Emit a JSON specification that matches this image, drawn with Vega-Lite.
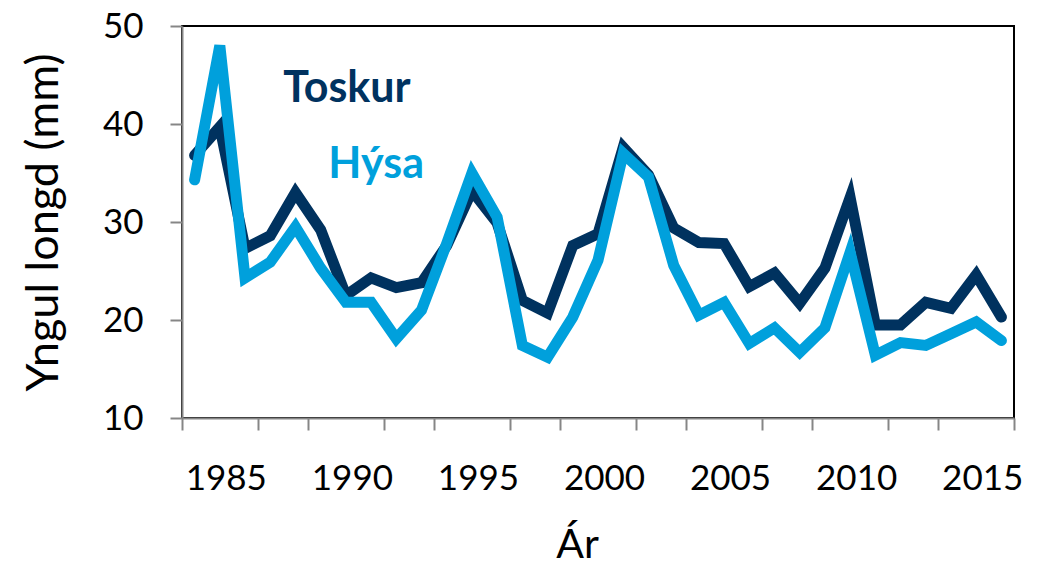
{
  "$schema": "https://vega.github.io/schema/vega-lite/v6.json",
  "width": 832,
  "height": 392,
  "autosize": {"type": "none"},
  "padding": {"left": 182, "top": 26, "right": 24, "bottom": 159},
  "background": "white",
  "config": {"view": {"stroke": "#000000", "strokeWidth": 2}, "font": "Lato"},
  "datasets": {
    "series": [
      {"year": 1984, "species": "Toskur", "value": 36.8},
      {"year": 1985, "species": "Toskur", "value": 39.7},
      {"year": 1986, "species": "Toskur", "value": 27.3},
      {"year": 1987, "species": "Toskur", "value": 28.6},
      {"year": 1988, "species": "Toskur", "value": 33.0},
      {"year": 1989, "species": "Toskur", "value": 29.2},
      {"year": 1990, "species": "Toskur", "value": 22.5},
      {"year": 1991, "species": "Toskur", "value": 24.3},
      {"year": 1992, "species": "Toskur", "value": 23.3},
      {"year": 1993, "species": "Toskur", "value": 23.8},
      {"year": 1994, "species": "Toskur", "value": 27.6},
      {"year": 1995, "species": "Toskur", "value": 33.2},
      {"year": 1996, "species": "Toskur", "value": 29.9},
      {"year": 1997, "species": "Toskur", "value": 22.0},
      {"year": 1998, "species": "Toskur", "value": 20.7},
      {"year": 1999, "species": "Toskur", "value": 27.6},
      {"year": 2000, "species": "Toskur", "value": 28.8},
      {"year": 2001, "species": "Toskur", "value": 37.6},
      {"year": 2002, "species": "Toskur", "value": 34.8},
      {"year": 2003, "species": "Toskur", "value": 29.4},
      {"year": 2004, "species": "Toskur", "value": 27.9},
      {"year": 2005, "species": "Toskur", "value": 27.8},
      {"year": 2006, "species": "Toskur", "value": 23.4},
      {"year": 2007, "species": "Toskur", "value": 24.8},
      {"year": 2008, "species": "Toskur", "value": 21.7},
      {"year": 2009, "species": "Toskur", "value": 25.3},
      {"year": 2010, "species": "Toskur", "value": 32.5},
      {"year": 2011, "species": "Toskur", "value": 19.5},
      {"year": 2012, "species": "Toskur", "value": 19.5},
      {"year": 2013, "species": "Toskur", "value": 21.8},
      {"year": 2014, "species": "Toskur", "value": 21.2},
      {"year": 2015, "species": "Toskur", "value": 24.6},
      {"year": 2016, "species": "Toskur", "value": 20.3},
      {"year": 1984, "species": "Hýsa", "value": 34.3},
      {"year": 1985, "species": "Hýsa", "value": 48.0},
      {"year": 1986, "species": "Hýsa", "value": 24.3},
      {"year": 1987, "species": "Hýsa", "value": 25.9},
      {"year": 1988, "species": "Hýsa", "value": 29.5},
      {"year": 1989, "species": "Hýsa", "value": 25.3},
      {"year": 1990, "species": "Hýsa", "value": 21.8},
      {"year": 1991, "species": "Hýsa", "value": 21.8},
      {"year": 1992, "species": "Hýsa", "value": 18.1},
      {"year": 1993, "species": "Hýsa", "value": 21.0},
      {"year": 1994, "species": "Hýsa", "value": 27.8},
      {"year": 1995, "species": "Hýsa", "value": 35.0},
      {"year": 1996, "species": "Hýsa", "value": 30.5},
      {"year": 1997, "species": "Hýsa", "value": 17.4},
      {"year": 1998, "species": "Hýsa", "value": 16.2},
      {"year": 1999, "species": "Hýsa", "value": 20.3},
      {"year": 2000, "species": "Hýsa", "value": 26.1},
      {"year": 2001, "species": "Hýsa", "value": 37.0},
      {"year": 2002, "species": "Hýsa", "value": 34.6},
      {"year": 2003, "species": "Hýsa", "value": 25.6},
      {"year": 2004, "species": "Hýsa", "value": 20.5},
      {"year": 2005, "species": "Hýsa", "value": 21.8},
      {"year": 2006, "species": "Hýsa", "value": 17.6},
      {"year": 2007, "species": "Hýsa", "value": 19.2},
      {"year": 2008, "species": "Hýsa", "value": 16.7},
      {"year": 2009, "species": "Hýsa", "value": 19.2},
      {"year": 2010, "species": "Hýsa", "value": 26.9},
      {"year": 2011, "species": "Hýsa", "value": 16.4},
      {"year": 2012, "species": "Hýsa", "value": 17.7},
      {"year": 2013, "species": "Hýsa", "value": 17.4},
      {"year": 2014, "species": "Hýsa", "value": 18.6},
      {"year": 2015, "species": "Hýsa", "value": 19.8},
      {"year": 2016, "species": "Hýsa", "value": 17.9}
    ],
    "labels": [
      {"label": "Toskur", "year": 1990.04, "value": 42.2},
      {"label": "Hýsa", "year": 1991.2, "value": 34.5}
    ]
  },
  "layer": [
    {
      "data": {"name": "series"},
      "transform": [{"filter": "datum.species == 'Toskur'"}],
      "mark": {"type": "line", "color": "#00325F", "strokeWidth": 11, "strokeCap": "round"},
      "encoding": {
        "x": {
          "field": "year",
          "type": "quantitative",
          "scale": {"domain": [1983.5, 2016.5], "nice": false, "zero": false},
          "axis": {
            "values": [1983.5, 1984.5, 1985.5, 1986.5, 1987.5, 1988.5, 1989.5, 1990.5, 1991.5, 1992.5, 1993.5, 1994.5, 1995.5, 1996.5, 1997.5, 1998.5, 1999.5, 2000.5, 2001.5, 2002.5, 2003.5, 2004.5, 2005.5, 2006.5, 2007.5, 2008.5, 2009.5, 2010.5, 2011.5, 2012.5, 2013.5, 2014.5, 2015.5, 2016.5, 1985, 1990, 1995, 2000, 2005, 2010, 2015],
            "format": "d",
            "labelExpr": "datum.value % 1 == 0 ? datum.label : ''",
            "labelOverlap": false,
            "labelFlush": false,
            "labelBound": false,
            "labelFontSize": 35,
            "labelColor": "#000000",
            "labelPadding": 31,
            "labelOffset": 6,
            "grid": false,
            "domainColor": "#868686",
            "domainWidth": 2,
            "tickColor": "#868686",
            "tickWidth": 2,
            "tickSize": 12,
            "tickOpacity": {"condition": {"test": "datum.value % 1 == 0", "value": 0}, "value": 1},
            "title": "Ár",
            "titleFontSize": 41,
            "titleFontWeight": "normal",
            "titleColor": "#000000",
            "titlePadding": 29,
            "titleX": 395
          }
        },
        "y": {
          "field": "value",
          "type": "quantitative",
          "scale": {"domain": [10, 50], "nice": false, "zero": false},
          "axis": {
            "values": [10, 20, 30, 40, 50],
            "labelFontSize": 35,
            "labelColor": "#000000",
            "labelPadding": 27,
            "grid": false,
            "domainColor": "#868686",
            "domainWidth": 2,
            "tickColor": "#868686",
            "tickWidth": 2,
            "tickSize": 12,
            "title": "Yngul longd (mm)",
            "titleFontSize": 45,
            "titleFontWeight": "normal",
            "titleColor": "#000000",
            "titlePadding": 36
          }
        }
      }
    },
    {
      "data": {"name": "series"},
      "transform": [{"filter": "datum.species == 'Hýsa'"}],
      "mark": {"type": "line", "color": "#00A0DC", "strokeWidth": 11, "strokeCap": "round"},
      "encoding": {
        "x": {"field": "year", "type": "quantitative"},
        "y": {"field": "value", "type": "quantitative"}
      }
    },
    {
      "data": {"name": "labels"},
      "mark": {"type": "text", "fontSize": 43, "fontWeight": "bold", "align": "center", "baseline": "alphabetic"},
      "encoding": {
        "x": {"field": "year", "type": "quantitative"},
        "y": {"field": "value", "type": "quantitative"},
        "text": {"field": "label"},
        "color": {"field": "label", "type": "nominal", "scale": {"domain": ["Toskur", "Hýsa"], "range": ["#00325F", "#00A0DC"]}, "legend": null}
      }
    }
  ]
}
